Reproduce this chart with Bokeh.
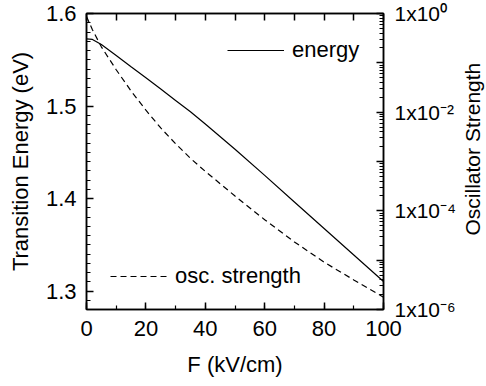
import math
from bokeh.plotting import figure
from bokeh.layouts import row
from bokeh.models import (Range1d, LogScale, LogAxis, LinearAxis, SingleIntervalTicker,
                          FixedTicker, CustomJSTickFormatter, Legend, LegendItem,
                          NumeralTickFormatter, Label)
from bokeh.embed import file_html
from bokeh.resources import INLINE

# data
field = [0, 2, 5, 10, 15, 20, 25, 30, 35, 40, 50, 60, 70, 80, 90, 100]
energy = [1.5726, 1.5720, 1.5665, 1.5546, 1.5425, 1.5305, 1.5183, 1.5060, 1.4937,
          1.4805, 1.4533, 1.4250, 1.3962, 1.3675, 1.3389, 1.3103]
osc_strength = [0.871, 0.468, 0.211, 0.0724, 0.0269, 0.01096, 0.00479, 0.00229, 0.00116,
                6.31e-4, 2.0e-4, 6.6e-5, 2.34e-5, 9.1e-6, 3.98e-6, 1.78e-6]
x_ticks_interval = 20
x_top_ticks = [0, 10, 20, 30, 40, 50, 60, 70, 80, 90, 100]
osc_decades = [1e-6, 1e-5, 1e-4, 1e-3, 1e-2, 1e-1, 1e0]

FONT = "Liberation Sans"
TICK_SIZE = "22px"
TITLE_SIZE = "22px"
H = 382

p = figure(width=461, height=H, output_backend="svg", toolbar_location=None,
           x_range=Range1d(0, 100), y_range=Range1d(1.28, 1.6),
           min_border_left=86, min_border_right=78, min_border_top=13, min_border_bottom=73,
           x_axis_location=None, y_axis_location=None)
p.extra_y_ranges = {"osc": Range1d(1e-6, 1)}
p.extra_y_scales = {"osc": LogScale()}
p.xgrid.visible = False
p.ygrid.visible = False
p.outline_line_color = "black"
p.outline_line_width = 1.5
p.background_fill_color = "white"
p.border_fill_color = "white"

def style(ax):
    ax.major_tick_in = 7
    ax.major_tick_out = 0
    ax.minor_tick_in = 4
    ax.minor_tick_out = 0
    ax.axis_line_color = "black"
    ax.axis_line_width = 1.5
    ax.major_tick_line_color = "black"
    ax.major_tick_line_width = 1.5
    ax.minor_tick_line_color = "black"
    ax.minor_tick_line_width = 1.2
    ax.major_label_text_font = FONT
    ax.major_label_text_font_size = TICK_SIZE
    ax.major_label_text_color = "black"
    ax.axis_label_text_font = FONT
    ax.axis_label_text_font_size = TITLE_SIZE
    ax.axis_label_text_font_style = "normal"
    ax.axis_label_text_color = "black"

xb = LinearAxis(ticker=SingleIntervalTicker(interval=x_ticks_interval, num_minor_ticks=2),
                axis_label="F (kV/cm)")
style(xb)
xb.major_label_standoff = 11
xb.axis_label_standoff = 13
p.add_layout(xb, "below")

# top axis: ticks only (drawn as minor ticks so no labels are produced)
xt = LinearAxis(ticker=FixedTicker(ticks=[], minor_ticks=x_top_ticks))
style(xt)
xt.minor_tick_in = 7
xt.minor_tick_line_width = 1.5
xt.major_label_standoff = 0
p.add_layout(xt, "above")

yl = LinearAxis(ticker=SingleIntervalTicker(interval=0.1, num_minor_ticks=10),
                axis_label="Transition Energy (eV)",
                formatter=NumeralTickFormatter(format="0.0"))
style(yl)
yl.major_label_standoff = 10
yl.axis_label_standoff = 10
p.add_layout(yl, "left")

minor = [k * d for d in osc_decades[:-1] for k in range(2, 10)]
yr = LogAxis(y_range_name="osc", ticker=FixedTicker(ticks=osc_decades, minor_ticks=minor))
yr.formatter = CustomJSTickFormatter(code="""
const e = Math.round(Math.log10(tick));
if (e % 2 != 0) return "";
const sup = {"0":"\u2070","1":"\u00b9","2":"\u00b2","3":"\u00b3","4":"\u2074","5":"\u2075","6":"\u2076","7":"\u2077","8":"\u2078","9":"\u2079","-":"\u207b"};
let s = "";
for (const c of String(e)) s += sup[c];
return "1x10" + s;
""")
style(yr)
yr.major_label_text_font_size = "21px"
yr.major_label_standoff = 11
p.add_layout(yr, "right")

r_energy = p.line(field, energy, line_color="black", line_width=1.2)
r_osc = p.line(field, osc_strength, y_range_name="osc", line_color="black",
               line_width=1.2, line_dash="6 4")

def mk_legend(label, rend, loc):
    lg = Legend(items=[LegendItem(label=label, renderers=[rend])], location=loc,
                padding=0, margin=0, spacing=0, glyph_width=57, glyph_height=22,
                label_height=22, label_standoff=8, border_line_alpha=0,
                background_fill_alpha=0, label_text_font=FONT,
                label_text_font_size=TITLE_SIZE, label_text_color="black")
    return lg

p.add_layout(mk_legend("energy", r_energy, (141, 246)), "center")
p.add_layout(mk_legend("osc. strength", r_osc, (24, 20)), "center")

# narrow strip holding the right-hand axis title (reads bottom-to-top)
p2 = figure(width=25, height=H, output_backend="svg", toolbar_location=None,
            x_range=Range1d(0, 1), y_range=Range1d(0, 1),
            min_border=0, x_axis_location=None, y_axis_location=None)
p2.xgrid.visible = False
p2.ygrid.visible = False
p2.outline_line_color = None
p2.background_fill_color = "white"
p2.border_fill_color = "white"
p2.add_layout(Label(x=0.45, y=(H - 175) / H, text="Oscillator Strength", angle=math.pi / 2,
                    text_align="center", text_baseline="middle",
                    text_font=FONT, text_font_size="21px", text_color="black"))

layout = row(p, p2, spacing=0)
open("out.html", "w").write(file_html(layout, INLINE))
